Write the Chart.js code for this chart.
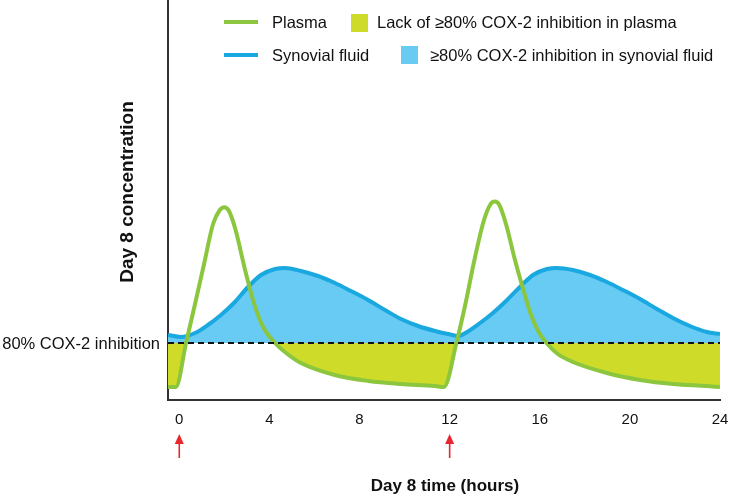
<!DOCTYPE html>
<html>
<head>
<meta charset="utf-8">
<script src="https://cdn.jsdelivr.net/npm/chart.js@4/dist/chart.umd.min.js"></script>
<style>
html,body{margin:0;padding:0;background:#fff;}
#wrap{width:729px;height:498px;position:relative;}
</style>
</head>
<body>
<div id="wrap"><canvas id="c" width="729" height="498"></canvas></div>
<script>
// ---- data ----
const plasmaHours = [-0.5,-0.15,0.3,0.7,1.1,1.5,1.8,2.0,2.2,2.5,2.9,3.3,3.7,4.25,4.8,5.4,6.9,8.4,9.84,11.35,11.75,12.3,12.7,13.1,13.5,13.8,14.0,14.2,14.5,14.9,15.3,15.6,15.95,16.3,16.8,17.47,18.98,20.45,21.9,23.4,24];
const plasmaValues = [3.25,3.25,14.25,24,34,44,47.5,48.2,47.3,42.5,33,24.5,18.5,14.25,11.5,9.25,6.25,4.75,4,3.5,3.25,14.25,24,35,44.5,48.8,49.6,48.8,44,35,27,21.5,17,14.25,11.5,9.5,6.75,5,4,3.5,3.25];
const synovialHours = [-0.5,0.08,0.7,1.27,1.85,2.47,3.05,3.63,4.25,4.69,5.4,6.16,6.91,7.62,8.38,9.13,9.84,10.6,11.35,11.93,12.4,12.77,13.35,13.92,14.55,15.12,15.7,16.32,16.76,17.47,18.23,18.98,19.69,20.45,21.2,21.91,22.66,23.42,24];
const synovialValues = [16.25,15.75,16.75,18.75,21.25,24.5,28.25,31.25,32.75,33,32.25,31,29.25,27.25,25,22.5,20.25,18.5,17.25,16.5,16,17,19.25,21.75,25,28.25,31.25,32.75,33,32.5,31.25,29.5,27.5,25.25,22.75,20.5,18.5,17,16.5];
const threshold = 14.25;
const doseTimes = [0, 12];
const xTicks = [0,4,8,12,16,20,24];
const legendLabels = ["Plasma","Lack of \u226580% COX-2 inhibition in plasma","Synovial fluid","\u226580% COX-2 inhibition in synovial fluid"];
const thresholdLabel = "80% COX-2 inhibition";
const xTitle = "Day 8 time (hours)";
const yTitle = "Day 8 concentration";

const GREEN = "#8cc63f", BLUE = "#1aa8e0", BLUEFILL = "#68cbf3", YELLOW = "#cedc29";
const FONT = "'Liberation Sans', Arial, sans-serif";

const toXY = (xs, ys) => xs.map((x,i)=>({x:x,y:ys[i]}));

const extras = {
  id:'extras',
  afterDraw(chart){
    const ctx = chart.ctx;
    const xs = chart.scales.x, ys = chart.scales.y;
    ctx.save();
    // threshold label
    ctx.fillStyle = "#111";
    ctx.font = "16.5px " + FONT;
    ctx.textAlign = "right"; ctx.textBaseline = "middle";
    ctx.fillText(thresholdLabel, 160, ys.getPixelForValue(threshold)+1);
    // y title
    ctx.save();
    ctx.translate(128, 192);
    ctx.rotate(-Math.PI/2);
    ctx.font = "bold 19px " + FONT;
    ctx.textAlign = "center"; ctx.textBaseline = "middle";
    ctx.fillText(yTitle, 0, 0);
    ctx.restore();
    // x title
    ctx.font = "bold 17px " + FONT;
    ctx.textAlign = "center"; ctx.textBaseline = "middle";
    ctx.fillText(xTitle, 445, 486);
    // dose arrows
    ctx.strokeStyle = "#e8262d"; ctx.fillStyle = "#e8262d"; ctx.lineWidth = 1.6;
    doseTimes.forEach(t=>{
      const px = xs.getPixelForValue(t);
      ctx.beginPath(); ctx.moveTo(px, 458); ctx.lineTo(px, 441); ctx.stroke();
      ctx.beginPath(); ctx.moveTo(px, 434); ctx.lineTo(px-4.5, 444); ctx.lineTo(px+4.5, 444); ctx.closePath(); ctx.fill();
    });
    // legend
    ctx.font = "16.5px " + FONT;
    ctx.textAlign = "left"; ctx.textBaseline = "middle";
    ctx.lineWidth = 4; ctx.lineCap = "butt";
    ctx.strokeStyle = GREEN;
    ctx.beginPath(); ctx.moveTo(224,22); ctx.lineTo(258,22); ctx.stroke();
    ctx.fillStyle = "#111"; ctx.fillText(legendLabels[0], 272, 23);
    ctx.fillStyle = YELLOW; ctx.fillRect(351,14,17,18);
    ctx.fillStyle = "#111"; ctx.fillText(legendLabels[1], 377, 23);
    ctx.strokeStyle = BLUE;
    ctx.beginPath(); ctx.moveTo(224,55); ctx.lineTo(258,55); ctx.stroke();
    ctx.fillStyle = "#111"; ctx.fillText(legendLabels[2], 272, 56);
    ctx.fillStyle = BLUEFILL; ctx.fillRect(401,46,17,18);
    ctx.fillStyle = "#111"; ctx.fillText(legendLabels[3], 430, 56);
    ctx.restore();
  }
};

new Chart(document.getElementById('c'), {
  type:'line',
  data:{
    datasets:[
      {
        label:'Threshold',
        data: toXY([-0.5,24],[threshold,threshold]),
        borderColor:'#111', borderWidth:2, borderDash:[6,4],
        pointRadius:0, fill:false, order:0
      },
      {
        label:'Plasma',
        data: toXY(plasmaHours, plasmaValues),
        borderColor:GREEN, borderWidth:4,
        pointRadius:0, cubicInterpolationMode:'monotone',
        fill:{target:{value:threshold}, above:'rgba(0,0,0,0)', below:YELLOW},
        order:1
      },
      {
        label:'Synovial fluid',
        data: toXY(synovialHours, synovialValues),
        borderColor:BLUE, borderWidth:4,
        pointRadius:0, cubicInterpolationMode:'monotone',
        fill:{target:{value:threshold}, above:BLUEFILL, below:'rgba(0,0,0,0)'},
        order:2
      }
    ]
  },
  options:{
    responsive:false, animation:false,
    layout:{padding:{left:0,right:9,top:0,bottom:0}},
    plugins:{legend:{display:false}, tooltip:{enabled:false}},
    scales:{
      x:{
        type:'linear', min:-0.5, max:24,
        afterFit(s){ s.height = 98; s.paddingLeft = 0; s.paddingRight = 0; },
        afterBuildTicks(s){ s.ticks = xTicks.map(v=>({value:v})); },
        ticks:{font:{family:FONT,size:15}, color:'#111', padding:11, maxRotation:0, autoSkip:false},
        grid:{display:false, drawTicks:false},
        border:{display:true, color:'#333', width:2}
      },
      y:{
        type:'linear', min:0, max:100,
        afterFit(s){ s.width = 168; s.paddingTop = 0; s.paddingBottom = 0; },
        ticks:{display:false},
        grid:{display:false, drawTicks:false},
        border:{display:true, color:'#333', width:2}
      }
    }
  },
  plugins:[extras]
});
</script>
</body>
</html>
